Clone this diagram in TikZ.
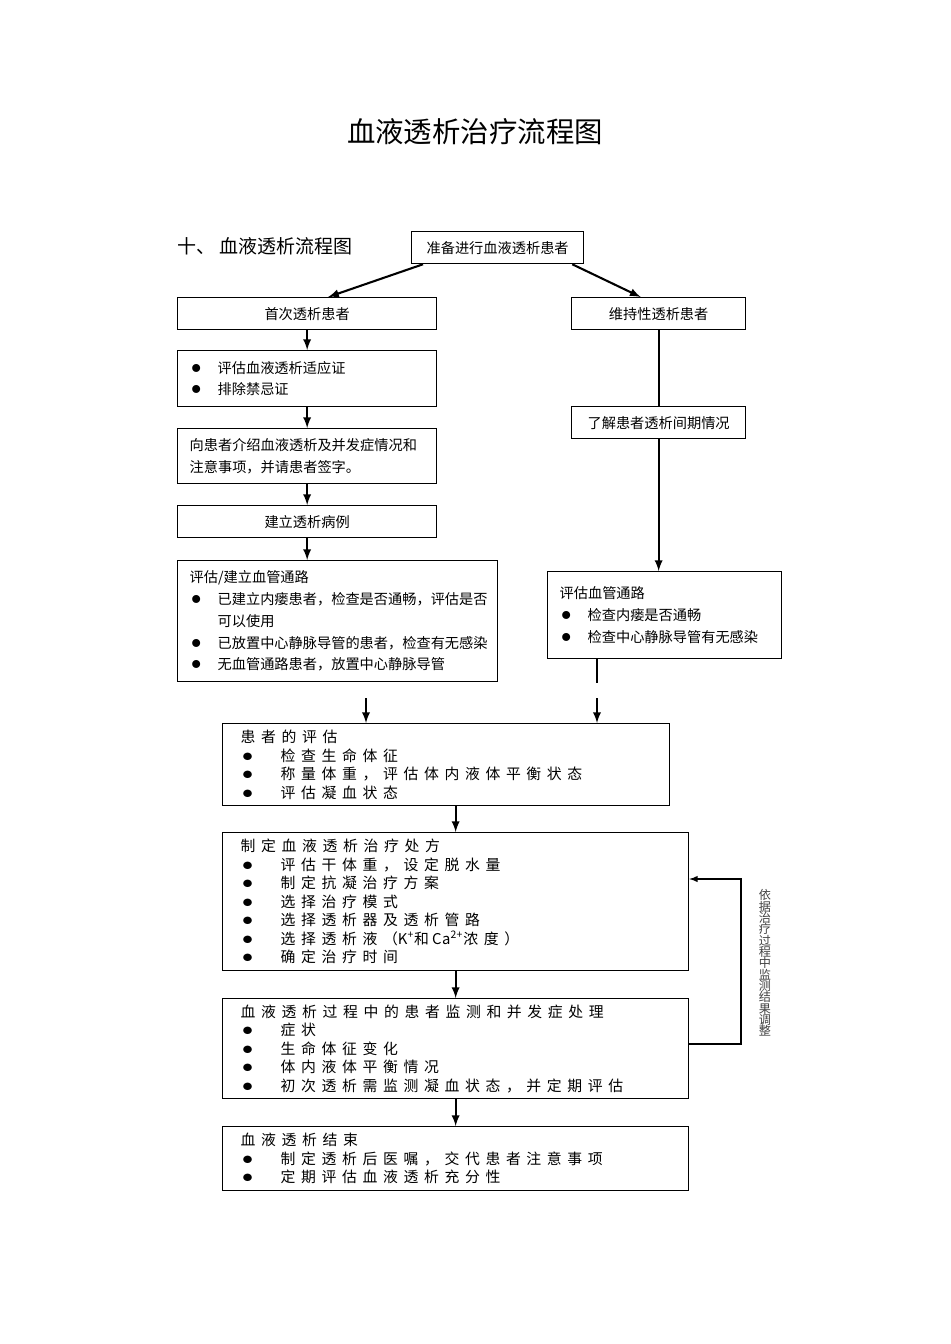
\documentclass[tikz,border=0pt]{standalone}
\usepackage{fontspec}
\setmainfont{Noto Sans CJK SC}
\newfontfamily\widecjk[LetterSpace=38]{Noto Sans CJK SC}
\usetikzlibrary{calc}

\newcommand\pxl[1]{\the\dimexpr0.6264pt*#1\relax}
\newcommand\upfont{\fontsize{8.9pt}{13.6pt}\selectfont}
\newcommand\lowfont{\widecjk\fontsize{9.3pt}{11.6pt}\selectfont}
\newcommand\tight[1]{{\addfontfeature{LetterSpace=4}#1}}
\newcommand\ubul{\makebox[\pxl{28}][l]{\kern1pt\scalebox{1.4}{$\bullet$}}}
\newcommand\lbul{\makebox[\pxl{40}][l]{\kern1pt\scalebox{1.5}[1.3]{$\bullet$}}}

\tikzset{
  box/.style={draw, line width=0.8pt, anchor=north west, inner xsep=\pxl{12}, inner ysep=0pt, align=left, font=\upfont},
  cbox/.style={box, align=center},
  lowbox/.style={box, inner xsep=\pxl{18}, font=\lowfont},
  arr/.style={-latex, line width=1.3pt},
}

\begin{document}
\begin{tikzpicture}[x=0.6264pt, y=-0.6264pt]
\useasboundingbox (0,0) rectangle (950,1344);

\node[font=\fontsize{17.8pt}{20pt}\selectfont] (title) at (475,132) {血液透析治疗流程图};
\node[font=\fontsize{11.9pt}{14pt}\selectfont, anchor=west, inner sep=0pt] (head) at (177,246) {十、\hspace{\pxl{4}}血液透析流程图};

% left column
\node[cbox, text width=\pxl{148}, minimum height=\pxl{32}] (start) at (411,231) {准备进行血液透析患者};
\node[cbox, text width=\pxl{235}, minimum height=\pxl{32}] (first) at (177,297) {首次透析患者};
\node[box, text width=\pxl{235}, minimum height=\pxl{56}] (indic) at (177,350) {\ubul 评估血液透析适应证\\ \ubul 排除禁忌证};
\node[box, text width=\pxl{235}, minimum height=\pxl{55}] (consent) at (177,428) {向患者介绍血液透析及并发症情况和\\注意事项，并请患者签字。};
\node[cbox, text width=\pxl{235}, minimum height=\pxl{32}] (record) at (177,505) {建立透析病例};
\node[box, text width=\pxl{296}, minimum height=\pxl{121}] (accessL) at (177,560) {评估/建立血管通路\\
  \ubul 已建立内瘘患者，检查是否通畅，评估是否\\
  \hspace*{\pxl{28}}可以使用\\
  \ubul 已放置中心静脉导管的患者，检查有无感染\\
  \ubul 无血管通路患者，放置中心静脉导管};

% right column
\node[cbox, text width=\pxl{150}, minimum height=\pxl{32}] (maint) at (571,297) {维持性透析患者};
\node[cbox, text width=\pxl{150}, minimum height=\pxl{32}] (interval) at (571,406) {了解患者透析间期情况};
\node[box, text width=\pxl{210}, minimum height=\pxl{87}] (accessR) at (547,571) {评估血管通路\\
  \ubul 检查内瘘是否通畅\\
  \ubul 检查中心静脉导管有无感染\par\vspace*{\pxl{10}}};

% lower part
\node[lowbox, text width=\pxl{411}, minimum height=\pxl{82}] (assess) at (222,723) {患者的评估\\
  \lbul 检查生命体征\\
  \lbul 称量体重，评估体内液体平衡状态\\
  \lbul 评估凝血状态};
\node[lowbox, text width=\pxl{430}, minimum height=\pxl{138}] (plan) at (222,832) {制定血液透析治疗处方\\
  \lbul 评估干体重，设定脱水量\\
  \lbul 制定抗凝治疗方案\\
  \lbul 选择治疗模式\\
  \lbul 选择透析器及透析管路\\
  \lbul 选择透析液（\tight{K\textsuperscript{+}}和\hspace{2pt}\tight{Ca\textsuperscript{2+}}浓度）\\
  \lbul 确定治疗时间};
\node[lowbox, text width=\pxl{430}, minimum height=\pxl{100}] (monitor) at (222,998) {血液透析过程中的患者监测和并发症处理\\
  \lbul 症状\\
  \lbul 生命体征变化\\
  \lbul 体内液体平衡情况\\
  \lbul 初次透析需监测凝血状态，并定期评估};
\node[lowbox, text width=\pxl{430}, minimum height=\pxl{64}] (finish) at (222,1126) {血液透析结束\\
  \lbul 制定透析后医嘱，交代患者注意事项\\
  \lbul 定期评估血液透析充分性};

\node[font=\fontsize{7.6pt}{7.1pt}\selectfont, text=black!75, align=center, inner sep=0pt] (note) at (765,963)
  {依\\据\\治\\疗\\过\\程\\中\\监\\测\\结\\果\\调\\整};

\draw[arr] ([xshift=\pxl{12}]start.south west) -- ([xshift=\pxl{21}]first.north);
\draw[arr] ([xshift=-\pxl{12}]start.south east) -- ([xshift=-\pxl{18}]maint.north);
\draw[arr] (first) -- (indic);
\draw[arr] (indic) -- (consent);
\draw[arr] (consent) -- (record);
\draw[arr] (record) -- (record |- accessL.north);
\draw[line width=1.3pt] (maint) -- (interval);
\draw[arr] (interval) -- (interval |- accessR.north);

\coordinate (gapL) at (366,698);
\coordinate (gapR) at (597,698);
\draw[line width=0.8pt] (accessR.south -| gapR) -- ++(0,24);
\draw[arr] (gapL) -- (gapL |- assess.north);
\draw[arr] (gapR) -- (gapR |- assess.north);
\draw[arr] (plan |- assess.south) -- (plan);
\draw[arr] (plan) -- (monitor);
\draw[arr] (monitor) -- (finish);

\coordinate (fb) at (741,1044);
\coordinate (fbtop) at (741,879);
\draw[-latex, line width=0.8pt] (monitor.east |- fb) -- (fb) -- (fbtop) -- (plan.east |- fbtop);
\end{tikzpicture}
\end{document}
